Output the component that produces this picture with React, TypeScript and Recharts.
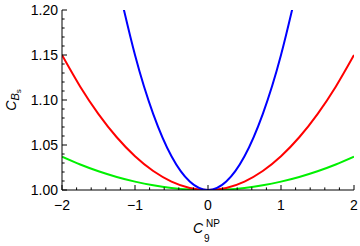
import { LineChart, Line, XAxis, YAxis } from "recharts";

// (C9^NP on x, C_Bs on y)
const xs = [-2, -1.75, -1.5, -1.25, -1, -0.75, -0.5, -0.25, 0, 0.25, 0.5, 0.75, 1, 1.25, 1.5, 1.75, 2];
const blue = [null, null, null, 1.2344, 1.15, 1.0844, 1.0375, 1.0094, 1.0, 1.0094, 1.0375, 1.0844, 1.15, 1.2344, null, null, null];
const red = [1.15, 1.1148, 1.0844, 1.0586, 1.0375, 1.0211, 1.0094, 1.0023, 1.0, 1.0023, 1.0094, 1.0211, 1.0375, 1.0586, 1.0844, 1.1148, 1.15];
const green = [1.037, 1.0283, 1.0208, 1.0145, 1.0093, 1.0052, 1.0023, 1.0006, 1.0, 1.0006, 1.0023, 1.0052, 1.0093, 1.0145, 1.0208, 1.0283, 1.037];

const xTicks = [-2, -1.8, -1.6, -1.4, -1.2, -1, -0.8, -0.6, -0.4, -0.2, 0, 0.2, 0.4, 0.6, 0.8, 1, 1.2, 1.4, 1.6, 1.8, 2];
const yTicks = [1.0, 1.01, 1.02, 1.03, 1.04, 1.05, 1.06, 1.07, 1.08, 1.09, 1.1, 1.11, 1.12, 1.13, 1.14, 1.15, 1.16, 1.17, 1.18, 1.19, 1.2];

const rows = xs.map((x, i) => ({ x, blue: blue[i], red: red[i], green: green[i] }));

const FONT = "'Liberation Sans', Arial, Helvetica, sans-serif";
const MAJOR = 5;
const MINOR = 2.6;

const isXMajor = (v: number) => Math.abs(v - Math.round(v)) < 1e-6;
const isYMajor = (v: number) => Math.abs(v * 20 - Math.round(v * 20)) < 1e-6;
const fmtX = (v: number) => (v < 0 ? "\u2212" + Math.abs(v) : String(v));

// Mathematica-style frame ticks: pointing inward, labels only on bottom/left
function XTick(props: any) {
  const { x, y, payload, side } = props;
  const v = payload.value;
  const len = isXMajor(v) ? MAJOR : MINOR;
  const dir = side === "top" ? 1 : -1;
  return (
    <g>
      <line x1={x} x2={x} y1={y} y2={y + dir * len} stroke="#000" strokeWidth={1} />
      {side === "bottom" && isXMajor(v) && (
        <text x={x} y={y + 20} textAnchor="middle" fontFamily={FONT} fontSize={14} fill="#000">
          {fmtX(Math.round(v))}
        </text>
      )}
    </g>
  );
}

function YTick(props: any) {
  const { x, y, payload, side } = props;
  const v = payload.value;
  const len = isYMajor(v) ? MAJOR : MINOR;
  const dir = side === "left" ? 1 : -1;
  return (
    <g>
      <line x1={x} x2={x + dir * len} y1={y} y2={y} stroke="#000" strokeWidth={1} />
      {side === "left" && isYMajor(v) && (
        <text x={x - 4} y={y + 5} textAnchor="end" fontFamily={FONT} fontSize={14} fill="#000">
          {v.toFixed(2)}
        </text>
      )}
    </g>
  );
}

const XTitle = () => (
  <g fontFamily={FONT} fill="#000">
    <text x={193} y={233} fontSize={14} fontStyle="italic">C</text>
    <text x={204} y={242} fontSize={10}>9</text>
    <text x={206} y={226.5} fontSize={10}>NP</text>
  </g>
);

const YTitle = () => (
  <text transform="translate(16,100) rotate(-90)" textAnchor="middle" fontFamily={FONT} fontSize={14} fill="#000">
    <tspan fontStyle="italic">C</tspan>
    <tspan fontStyle="italic" fontSize={11} dy={3}>B</tspan>
    <tspan fontSize={8} dy={2}>s</tspan>
  </text>
);

export default function App() {
  return (
    <div style={{ position: "absolute", left: 0, top: 0, background: "#fff" }}>
      <LineChart width={360} height={246} data={rows} margin={{ top: 10, right: 6, left: 0, bottom: 0 }}>
        <XAxis
          dataKey="x"
          type="number"
          domain={[-2, 2]}
          ticks={xTicks}
          interval={0}
          allowDataOverflow
          height={56}
          tickSize={0}
          tickMargin={0}
          axisLine={{ stroke: "#000" }}
          tick={(p: any) => <XTick {...p} side="bottom" />}
          label={<XTitle />}
        />
        <XAxis
          xAxisId="top"
          orientation="top"
          dataKey="x"
          type="number"
          domain={[-2, 2]}
          ticks={xTicks}
          interval={0}
          allowDataOverflow
          height={0}
          tickSize={0}
          tickMargin={0}
          axisLine={{ stroke: "#000" }}
          tick={(p: any) => <XTick {...p} side="top" />}
        />
        <YAxis
          type="number"
          domain={[1, 1.2]}
          ticks={yTicks}
          interval={0}
          allowDataOverflow
          width={62}
          tickSize={0}
          tickMargin={0}
          axisLine={{ stroke: "#000" }}
          tick={(p: any) => <YTick {...p} side="left" />}
          label={<YTitle />}
        />
        <YAxis
          yAxisId="right"
          orientation="right"
          type="number"
          domain={[1, 1.2]}
          ticks={yTicks}
          interval={0}
          allowDataOverflow
          width={0}
          tickSize={0}
          tickMargin={0}
          axisLine={{ stroke: "#000" }}
          tick={(p: any) => <YTick {...p} side="right" />}
        />
        <Line type="natural" dataKey="green" stroke="#00f000" strokeWidth={2} dot={false} isAnimationActive={false} />
        <Line type="natural" dataKey="red" stroke="#ff0000" strokeWidth={2} dot={false} isAnimationActive={false} />
        <Line type="natural" dataKey="blue" stroke="#0000ff" strokeWidth={2} dot={false} isAnimationActive={false} />
      </LineChart>
    </div>
  );
}
